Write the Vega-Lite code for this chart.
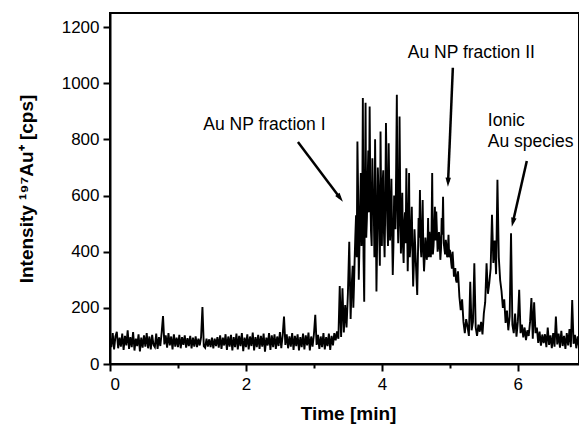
{
  "$schema": "https://vega.github.io/schema/vega-lite/v6.json",
  "width": 469,
  "height": 351,
  "autosize": "none",
  "padding": {"left": 110, "top": 13, "right": 0, "bottom": 61},
  "background": "white",
  "config": {
    "view": {"stroke": "black", "strokeWidth": 2},
    "font": "Liberation Sans",
    "axis": {"domainColor": "black", "domainWidth": 2, "tickColor": "black", "tickWidth": 2, "grid": false,
             "labelFont": "Liberation Sans", "labelFontSize": 17, "labelColor": "black",
             "titleFont": "Liberation Sans", "titleFontSize": 19, "titleFontWeight": "bold", "titleColor": "black"}
  },
  "layer": [
    {
      "data": {"values": [
{"t":0.00,"v":95},{"t":0.02,"v":60},{"t":0.04,"v":110},{"t":0.06,"v":52},{"t":0.08,"v":98},{"t":0.10,"v":115},{"t":0.12,"v":56},{"t":0.14,"v":94},{"t":0.16,"v":62},{"t":0.18,"v":108},
{"t":0.20,"v":50},{"t":0.22,"v":100},{"t":0.24,"v":66},{"t":0.26,"v":120},{"t":0.28,"v":54},{"t":0.30,"v":96},{"t":0.32,"v":60},{"t":0.34,"v":114},{"t":0.36,"v":48},{"t":0.38,"v":90},
{"t":0.40,"v":64},{"t":0.42,"v":106},{"t":0.44,"v":45},{"t":0.46,"v":94},{"t":0.48,"v":58},{"t":0.50,"v":102},{"t":0.52,"v":62},{"t":0.54,"v":110},{"t":0.56,"v":56},{"t":0.58,"v":98},
{"t":0.60,"v":52},{"t":0.62,"v":104},{"t":0.64,"v":68},{"t":0.66,"v":60},{"t":0.68,"v":108},{"t":0.70,"v":54},{"t":0.72,"v":96},{"t":0.74,"v":64},{"t":0.76,"v":112},{"t":0.78,"v":171},
{"t":0.80,"v":70},{"t":0.82,"v":102},{"t":0.84,"v":58},{"t":0.86,"v":110},{"t":0.88,"v":66},{"t":0.90,"v":98},{"t":0.92,"v":52},{"t":0.94,"v":106},{"t":0.96,"v":62},{"t":0.98,"v":94},
{"t":1.00,"v":60},{"t":1.02,"v":104},{"t":1.04,"v":56},{"t":1.06,"v":96},{"t":1.08,"v":68},{"t":1.10,"v":102},{"t":1.12,"v":58},{"t":1.14,"v":92},{"t":1.16,"v":64},{"t":1.18,"v":100},
{"t":1.20,"v":56},{"t":1.22,"v":94},{"t":1.24,"v":62},{"t":1.26,"v":98},{"t":1.28,"v":60},{"t":1.30,"v":90},{"t":1.32,"v":66},{"t":1.34,"v":96},{"t":1.36,"v":203},{"t":1.38,"v":64},
{"t":1.40,"v":58},{"t":1.42,"v":90},{"t":1.44,"v":62},{"t":1.46,"v":88},{"t":1.48,"v":60},{"t":1.50,"v":94},{"t":1.52,"v":56},{"t":1.54,"v":90},{"t":1.56,"v":64},{"t":1.58,"v":96},
{"t":1.60,"v":58},{"t":1.62,"v":102},{"t":1.64,"v":54},{"t":1.66,"v":94},{"t":1.68,"v":66},{"t":1.70,"v":106},{"t":1.72,"v":50},{"t":1.74,"v":98},{"t":1.76,"v":62},{"t":1.78,"v":104},
{"t":1.80,"v":48},{"t":1.82,"v":96},{"t":1.84,"v":60},{"t":1.86,"v":108},{"t":1.88,"v":52},{"t":1.90,"v":100},{"t":1.92,"v":64},{"t":1.94,"v":110},{"t":1.96,"v":46},{"t":1.98,"v":94},
{"t":2.00,"v":60},{"t":2.02,"v":106},{"t":2.04,"v":52},{"t":2.06,"v":98},{"t":2.08,"v":64},{"t":2.10,"v":112},{"t":2.12,"v":48},{"t":2.14,"v":96},{"t":2.16,"v":60},{"t":2.18,"v":104},
{"t":2.20,"v":54},{"t":2.22,"v":100},{"t":2.24,"v":62},{"t":2.26,"v":108},{"t":2.28,"v":44},{"t":2.30,"v":94},{"t":2.32,"v":66},{"t":2.34,"v":110},{"t":2.36,"v":50},{"t":2.38,"v":102},
{"t":2.40,"v":60},{"t":2.42,"v":106},{"t":2.44,"v":54},{"t":2.46,"v":98},{"t":2.48,"v":64},{"t":2.50,"v":114},{"t":2.52,"v":56},{"t":2.54,"v":102},{"t":2.56,"v":169},{"t":2.58,"v":68},
{"t":2.60,"v":106},{"t":2.62,"v":56},{"t":2.64,"v":98},{"t":2.66,"v":62},{"t":2.68,"v":110},{"t":2.70,"v":50},{"t":2.72,"v":100},{"t":2.74,"v":64},{"t":2.76,"v":106},{"t":2.78,"v":48},
{"t":2.80,"v":96},{"t":2.82,"v":60},{"t":2.84,"v":108},{"t":2.86,"v":52},{"t":2.88,"v":102},{"t":2.90,"v":66},{"t":2.92,"v":112},{"t":2.94,"v":48},{"t":2.96,"v":98},{"t":2.98,"v":62},
{"t":3.00,"v":106},{"t":3.02,"v":175},{"t":3.04,"v":68},{"t":3.06,"v":104},{"t":3.08,"v":54},{"t":3.10,"v":98},{"t":3.12,"v":60},{"t":3.14,"v":110},{"t":3.16,"v":52},{"t":3.18,"v":96},
{"t":3.20,"v":64},{"t":3.22,"v":108},{"t":3.24,"v":50},{"t":3.26,"v":100},{"t":3.28,"v":66},{"t":3.30,"v":110},{"t":3.32,"v":84},{"t":3.34,"v":116},{"t":3.36,"v":90},{"t":3.38,"v":278},
{"t":3.40,"v":96},{"t":3.42,"v":270},{"t":3.44,"v":112},{"t":3.46,"v":210},{"t":3.48,"v":130},{"t":3.50,"v":250},{"t":3.52,"v":435},{"t":3.54,"v":160},{"t":3.56,"v":300},{"t":3.58,"v":200},
{"t":3.60,"v":380},{"t":3.62,"v":530},{"t":3.64,"v":792},{"t":3.66,"v":300},{"t":3.68,"v":560},{"t":3.70,"v":420},{"t":3.72,"v":947},{"t":3.74,"v":222},{"t":3.76,"v":930},{"t":3.78,"v":520},
{"t":3.80,"v":760},{"t":3.82,"v":917},{"t":3.84,"v":470},{"t":3.86,"v":733},{"t":3.88,"v":560},{"t":3.90,"v":800},{"t":3.92,"v":258},{"t":3.94,"v":700},{"t":3.96,"v":480},{"t":3.98,"v":828},
{"t":4.00,"v":420},{"t":4.02,"v":690},{"t":4.04,"v":380},{"t":4.06,"v":858},{"t":4.08,"v":500},{"t":4.10,"v":786},{"t":4.12,"v":440},{"t":4.14,"v":660},{"t":4.16,"v":317},{"t":4.18,"v":600},
{"t":4.20,"v":480},{"t":4.22,"v":959},{"t":4.24,"v":430},{"t":4.26,"v":881},{"t":4.28,"v":394},{"t":4.30,"v":610},{"t":4.32,"v":360},{"t":4.34,"v":540},{"t":4.36,"v":697},{"t":4.38,"v":330},
{"t":4.40,"v":680},{"t":4.42,"v":420},{"t":4.44,"v":560},{"t":4.46,"v":276},{"t":4.48,"v":480},{"t":4.50,"v":360},{"t":4.52,"v":246},{"t":4.54,"v":520},{"t":4.56,"v":620},{"t":4.58,"v":380},
{"t":4.60,"v":584},{"t":4.62,"v":330},{"t":4.64,"v":450},{"t":4.66,"v":371},{"t":4.68,"v":520},{"t":4.70,"v":471},{"t":4.72,"v":380},{"t":4.74,"v":680},{"t":4.76,"v":420},{"t":4.78,"v":560},
{"t":4.80,"v":543},{"t":4.82,"v":400},{"t":4.84,"v":470},{"t":4.86,"v":371},{"t":4.88,"v":520},{"t":4.90,"v":596},{"t":4.92,"v":410},{"t":4.94,"v":442},{"t":4.96,"v":380},{"t":4.98,"v":460},
{"t":5.00,"v":406},{"t":5.02,"v":360},{"t":5.04,"v":400},{"t":5.06,"v":311},{"t":5.08,"v":342},{"t":5.10,"v":290},{"t":5.12,"v":330},{"t":5.14,"v":240},{"t":5.16,"v":192},{"t":5.18,"v":230},
{"t":5.20,"v":150},{"t":5.22,"v":110},{"t":5.24,"v":160},{"t":5.26,"v":133},{"t":5.28,"v":100},{"t":5.30,"v":293},{"t":5.32,"v":120},{"t":5.34,"v":150},{"t":5.36,"v":359},{"t":5.38,"v":130},
{"t":5.40,"v":100},{"t":5.42,"v":140},{"t":5.44,"v":115},{"t":5.46,"v":150},{"t":5.48,"v":105},{"t":5.50,"v":180},{"t":5.52,"v":220},{"t":5.54,"v":359},{"t":5.56,"v":250},{"t":5.58,"v":288},
{"t":5.60,"v":340},{"t":5.62,"v":531},{"t":5.64,"v":360},{"t":5.66,"v":440},{"t":5.68,"v":320},{"t":5.70,"v":656},{"t":5.72,"v":380},{"t":5.74,"v":299},{"t":5.76,"v":260},{"t":5.78,"v":200},
{"t":5.80,"v":230},{"t":5.82,"v":146},{"t":5.84,"v":190},{"t":5.86,"v":120},{"t":5.88,"v":170},{"t":5.90,"v":466},{"t":5.92,"v":140},{"t":5.94,"v":110},{"t":5.96,"v":180},{"t":5.98,"v":97},
{"t":6.00,"v":150},{"t":6.02,"v":264},{"t":6.04,"v":110},{"t":6.06,"v":140},{"t":6.08,"v":95},{"t":6.10,"v":130},{"t":6.12,"v":85},{"t":6.14,"v":120},{"t":6.16,"v":100},{"t":6.18,"v":150},
{"t":6.20,"v":235},{"t":6.22,"v":90},{"t":6.24,"v":220},{"t":6.26,"v":110},{"t":6.28,"v":130},{"t":6.30,"v":75},{"t":6.32,"v":115},{"t":6.34,"v":65},{"t":6.36,"v":105},{"t":6.38,"v":74},
{"t":6.40,"v":106},{"t":6.42,"v":60},{"t":6.44,"v":130},{"t":6.46,"v":68},{"t":6.48,"v":102},{"t":6.50,"v":56},{"t":6.52,"v":110},{"t":6.54,"v":62},{"t":6.56,"v":169},{"t":6.58,"v":70},
{"t":6.60,"v":108},{"t":6.62,"v":58},{"t":6.64,"v":118},{"t":6.66,"v":64},{"t":6.68,"v":100},{"t":6.70,"v":54},{"t":6.72,"v":110},{"t":6.74,"v":66},{"t":6.76,"v":124},{"t":6.78,"v":60},
{"t":6.80,"v":228},{"t":6.82,"v":72},{"t":6.84,"v":104},{"t":6.86,"v":56},{"t":6.88,"v":98},{"t":6.90,"v":62},
{"t":3.55,"v":240},{"t":3.57,"v":350},{"t":3.59,"v":280},{"t":3.61,"v":460},{"t":3.63,"v":380},{"t":3.65,"v":620},{"t":3.67,"v":420},{"t":3.69,"v":680},{"t":3.71,"v":500},{"t":3.73,"v":380},
{"t":3.75,"v":600},{"t":3.77,"v":450},{"t":3.79,"v":650},{"t":3.81,"v":540},{"t":3.83,"v":620},{"t":3.85,"v":420},{"t":3.87,"v":590},{"t":3.89,"v":380},{"t":3.91,"v":560},{"t":3.93,"v":430},
{"t":3.95,"v":620},{"t":3.97,"v":350},{"t":3.99,"v":560},{"t":4.01,"v":640},{"t":4.03,"v":470},{"t":4.05,"v":560},{"t":4.07,"v":680},{"t":4.09,"v":420},{"t":4.11,"v":600},{"t":4.13,"v":500},
{"t":4.15,"v":470},{"t":4.17,"v":420},{"t":4.19,"v":540},{"t":4.21,"v":700},{"t":4.23,"v":560},{"t":4.25,"v":520},{"t":4.27,"v":600},{"t":4.29,"v":480},{"t":4.31,"v":420},{"t":4.33,"v":500},
{"t":4.35,"v":430},{"t":4.37,"v":520},{"t":4.39,"v":450},{"t":4.41,"v":380},{"t":4.43,"v":480},{"t":4.45,"v":400},{"t":4.47,"v":350},{"t":4.49,"v":420},{"t":4.51,"v":300},{"t":4.53,"v":380},
{"t":4.55,"v":450},{"t":4.57,"v":420},{"t":4.59,"v":470},{"t":4.61,"v":400},{"t":4.63,"v":380},{"t":4.65,"v":420},{"t":4.67,"v":400},{"t":4.69,"v":380},{"t":4.71,"v":430},{"t":4.73,"v":460},
{"t":4.75,"v":390},{"t":4.77,"v":480},{"t":4.79,"v":440},{"t":4.81,"v":470},{"t":4.83,"v":420},{"t":4.85,"v":440},{"t":4.87,"v":410},{"t":4.89,"v":460},{"t":4.91,"v":430},{"t":4.93,"v":390},
{"t":4.95,"v":420},{"t":4.97,"v":400},{"t":4.99,"v":380},{"t":5.01,"v":390},{"t":5.03,"v":340},{"t":5.05,"v":360},{"t":5.07,"v":330},{"t":5.09,"v":300}
      ]},
      "mark": {"type": "line", "color": "black", "strokeWidth": 1.9, "clip": true},
      "encoding": {
        "x": {"field": "t", "type": "quantitative", "scale": {"domain": [0, 6.9], "nice": false},
              "axis": {"title": "Time [min]", "values": [0,1,2,3,4,5,6], "format": "d", "labelExpr": "datum.value % 2 === 0 ? datum.label : ''",
                       "tickSize": {"condition": {"test": "datum.value % 2 === 0", "value": 7}, "value": 4},
                       "labelPadding": 5, "titlePadding": 12, "titleX": 238, "titleAnchor": "middle"}},
        "y": {"field": "v", "type": "quantitative", "scale": {"domain": [0, 1250], "nice": false},
              "axis": {"title": "Intensity ¹⁹⁷Au⁺ [cps]", "titleFontSize": 19, "values": [0,100,200,300,400,500,600,700,800,900,1000,1100,1200],
                       "labelExpr": "datum.value % 200 === 0 ? datum.label : ''", "format": "d",
                       "tickSize": 7, "labelPadding": 4, "titlePadding": 25}}
      }
    },
    {
      "data": {"values": [
        {"t": 2.765, "v": 791, "t2": 3.382, "v2": 592},
        {"t": 5.044, "v": 1055, "t2": 4.974, "v2": 649},
        {"t": 6.132, "v": 723, "t2": 5.928, "v2": 506}
      ]},
      "mark": {"type": "rule", "color": "black", "strokeWidth": 2.5},
      "encoding": {
        "x": {"field": "t", "type": "quantitative"},
        "y": {"field": "v", "type": "quantitative"},
        "x2": {"field": "t2"},
        "y2": {"field": "v2"}
      }
    },
    {
      "data": {"values": [
        {"t": 3.382, "v": 592, "dir": 143},
        {"t": 4.974, "v": 649, "dir": 182},
        {"t": 5.928, "v": 506, "dir": 193}
      ]},
      "mark": {"type": "point", "filled": true, "color": "black", "opacity": 1, "size": 70, "shape": "M0,-1.2L0.65,1L-0.65,1Z"},
      "encoding": {
        "x": {"field": "t", "type": "quantitative"},
        "y": {"field": "v", "type": "quantitative"},
        "angle": {"field": "dir", "type": "quantitative", "scale": null}
      }
    },
    {
      "data": {"values": [
        {"t": 2.272, "v": 852, "label": "Au NP fraction I"},
        {"t": 5.316, "v": 1108, "label": "Au NP fraction II"}
      ]},
      "mark": {"type": "text", "font": "Liberation Sans", "fontSize": 17.5, "color": "black", "baseline": "middle", "align": "center"},
      "encoding": {
        "x": {"field": "t", "type": "quantitative"},
        "y": {"field": "v", "type": "quantitative"},
        "text": {"field": "label"}
      }
    },
    {
      "data": {"values": [
        {"t": 5.559, "v": 866, "label": "Ionic"},
        {"t": 5.559, "v": 791, "label": "Au species"}
      ]},
      "mark": {"type": "text", "font": "Liberation Sans", "fontSize": 17.5, "color": "black", "baseline": "middle", "align": "left"},
      "encoding": {
        "x": {"field": "t", "type": "quantitative"},
        "y": {"field": "v", "type": "quantitative"},
        "text": {"field": "label"}
      }
    }
  ]
}
